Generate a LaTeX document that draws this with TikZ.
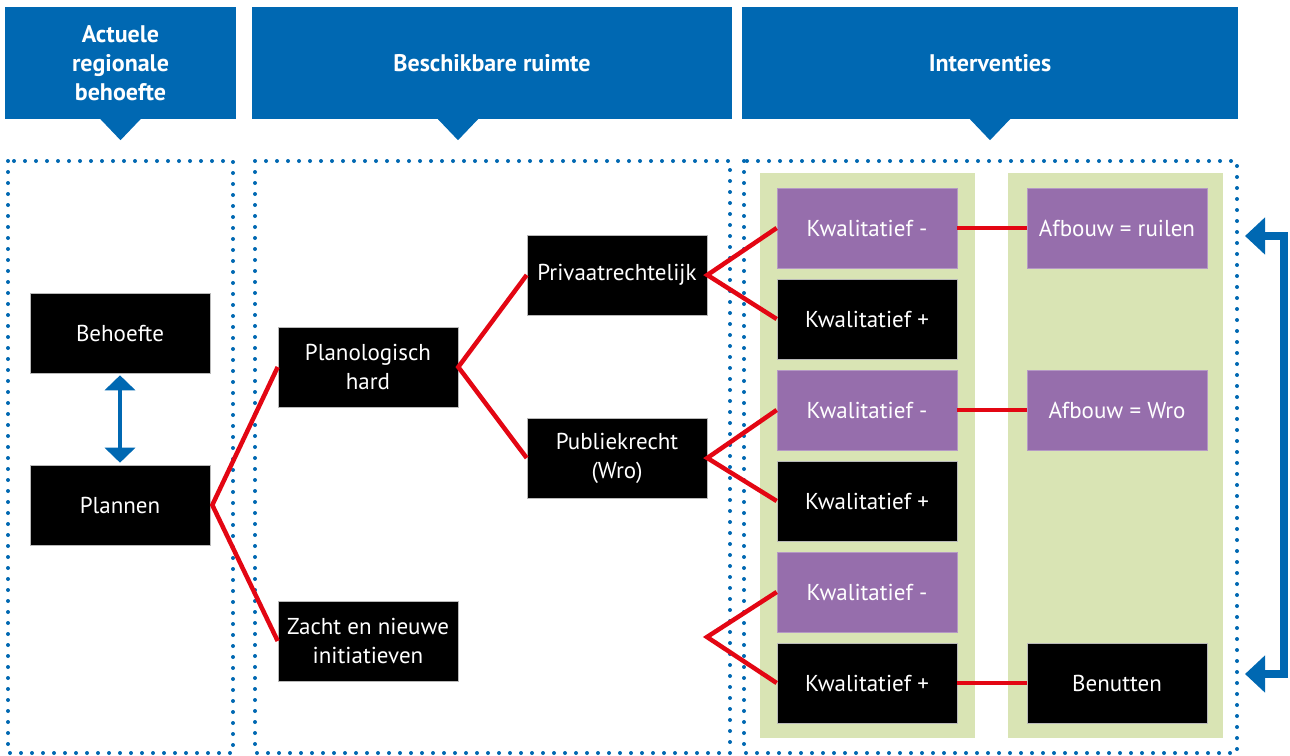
\documentclass[tikz,border=0pt]{standalone}
\usepackage{fontspec}
\setmainfont{PT Sans}
\usetikzlibrary{arrows.meta}
\definecolor{kopblauw}{RGB}{0,104,178}
\definecolor{paars}{RGB}{150,110,172}
\definecolor{lichtgroen}{RGB}{217,228,180}
\definecolor{rood}{RGB}{227,6,19}

\begin{document}
\begin{tikzpicture}[x=1pt,y=-1pt,
  kop/.style={fill=kopblauw,text=white,inner sep=0,align=center,
    font=\fontsize{24}{29}\selectfont\bfseries},
  blok/.style={fill=black,draw=gray!55,line width=0.6pt,text=white,inner sep=0,
    minimum width=180pt,minimum height=80pt,align=center,
    font=\fontsize{23}{29}\selectfont},
  blokp/.style={blok,fill=paars,draw=paars!70!white},
  kader/.style={draw=kopblauw,line width=4pt,line cap=round,dash pattern=on 0pt off 11pt},
  tak/.style={draw=rood,line width=4.5pt},
  pijl/.style={draw=kopblauw,line width=4pt,
    {Triangle[width=30pt,length=15pt]}-{Triangle[width=30pt,length=15pt]}},
  haak/.style={draw=kopblauw,line width=8pt,line join=miter,
    {Triangle[width=36pt,length=20pt]}-{Triangle[width=36pt,length=20pt]}}
]
\useasboundingbox (0,0) rectangle (1290,755);

% kopjes
\node[kop,minimum width=231pt,minimum height=112pt] (H1) at (120.5,63) {Actuele\\regionale\\behoefte};
\node[kop,minimum width=480pt,minimum height=112pt] (H2) at (492,63) {Beschikbare ruimte};
\node[kop,minimum width=496pt,minimum height=112pt] (H3) at (990,63) {Interventies};
\fill[kopblauw] (H1.south) ++(-21,-1) -- ++(42,0) -- ++(-21,22) -- cycle;
\fill[kopblauw] (H2.south) ++(-55,-1) -- ++(42,0) -- ++(-21,22) -- cycle;
\fill[kopblauw] (H3.south) ++(-21,-1) -- ++(42,0) -- ++(-21,22) -- cycle;

% kaders en groene vlakken
\draw[kader] (8,161) rectangle (233,753);
\draw[kader] (255,161) rectangle (730,753);
\draw[kader] (744,161) rectangle (1237,753);
\fill[lichtgroen] (760,173) rectangle (975,738);
\fill[lichtgroen] (1008,173) rectangle (1223,738);

% blokken
\node[blok] (B1) at (120,333) {Behoefte};
\node[blok] (B2) at (120,505) {Plannen};

\node[blok] (P1) at (368,367) {Planologisch\\hard};
\node[blok] (P2) at (368,641) {Zacht en nieuwe\\initiatieven};

\node[blok] (R1) at (617,275) {Privaatrechtelijk};
\node[blok] (R2) at (617,458) {Publiekrecht\\(Wro)};
\coordinate (Z) at (707,637);

\node[blokp] (K1) at (867,228) {Kwalitatief -};
\node[blok]  (K2) at (867,319) {Kwalitatief +};
\node[blokp] (K3) at (867,410) {Kwalitatief -};
\node[blok]  (K4) at (867,501) {Kwalitatief +};
\node[blokp] (K5) at (867,592) {Kwalitatief -};
\node[blok]  (K6) at (867,683) {Kwalitatief +};

\node[blokp] (A1) at (1117,228) {Afbouw = ruilen};
\node[blokp] (A2) at (1117,410) {Afbouw = Wro};
\node[blok]  (A3) at (1117,683) {Benutten};

\coordinate (T1) at (1245,236);
\coordinate (T2) at (1245,674);

% verbindingen
\draw[tak] (P1.west) -- ([xshift=2pt]B2.east) -- (P2.west);
\draw[tak] (R1.west) -- (P1.east) -- (R2.west);
\draw[tak] (K1.west) -- (R1.east) -- (K2.west);
\draw[tak] (K3.west) -- (R2.east) -- (K4.west);
\draw[tak] (K5.west) -- (Z) -- (K6.west);
\path[tak] (K1) edge (A1);
\path[tak] (K3) edge (A2);
\path[tak] (K6) edge (A3);

\draw[pijl,shorten <=2pt,shorten >=2pt] (B1.south) -- (B2.north);
\draw[haak] (T1) -- (1284,236) -- (1284,674) -- (T2);
\end{tikzpicture}
\end{document}
